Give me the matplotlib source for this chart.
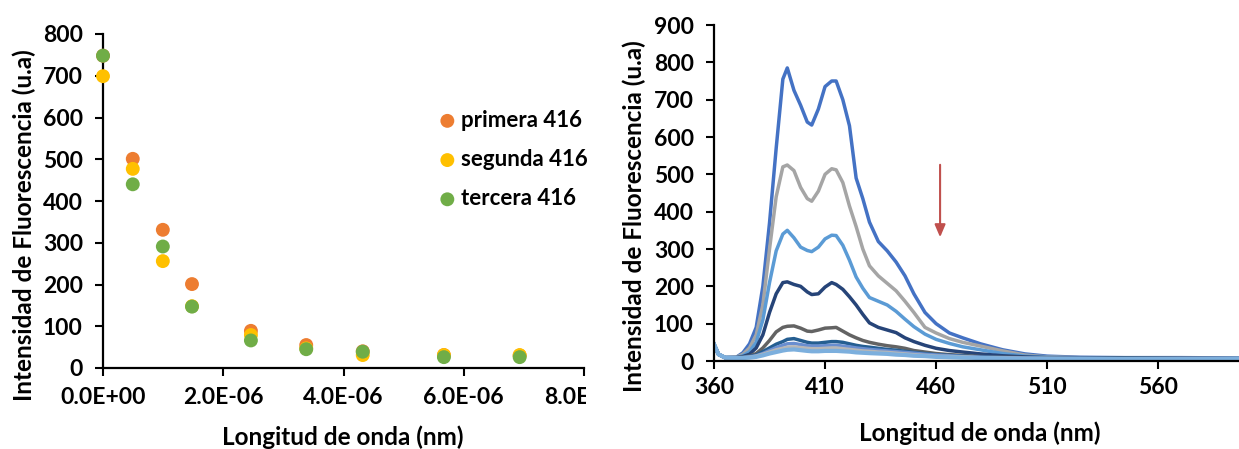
import matplotlib
matplotlib.use("Agg")
import matplotlib.pyplot as plt
from matplotlib.transforms import Bbox, TransformedBbox
from matplotlib.ticker import FuncFormatter, MultipleLocator

plt.rcParams['font.family'] = ['Lato', 'DejaVu Sans']
plt.rcParams['font.weight'] = 'bold'

# ---------------- left chart data ----------------
conc = [0.0, 0.495e-6, 0.995e-6, 1.48e-6, 2.46e-6, 3.38e-6, 4.32e-6, 5.67e-6, 6.93e-6]
primera = [748, 501, 331, 201, 89, 55, 40, 31, 30]
segunda = [699, 477, 256, 148, 79, 47, 31, 31, 31]
tercera = [748, 440, 291, 147, 66, 45, 39, 26, 26]
series_names = ["primera 416", "segunda 416", "tercera 416"]
series_colors = ["#ED7D31", "#FFC000", "#70AD47"]

# ---------------- right chart data ----------------
wl = [360, 362, 365, 370, 373, 376, 379, 382, 385, 388, 391, 393, 396, 399, 402, 404, 407,
      410, 413, 415, 418, 421, 424, 427, 430, 434, 438, 442, 446, 450, 455, 460, 466, 472,
      480, 490, 500, 510, 525, 545, 570, 600]
s1 = [45, 18, 9, 10, 22, 46, 90, 200, 370, 570, 755, 785, 725, 685, 640, 632, 675,
      735, 750, 750, 700, 630, 490, 435, 372, 320, 295, 265, 228, 180, 130, 100, 75, 62,
      46, 30, 19, 13, 10, 9, 9, 8]
s2 = [45, 18, 9, 10, 18, 35, 70, 150, 300, 440, 520, 525, 510, 465, 435, 428, 455,
      500, 515, 512, 478, 415, 360, 300, 255, 228, 208, 188, 160, 130, 90, 75, 60, 50,
      40, 27, 16, 11, 9, 8, 8, 7]
s3 = [45, 18, 9, 9, 14, 25, 50, 110, 210, 295, 340, 350, 330, 305, 296, 293, 305,
      327, 337, 336, 310, 270, 225, 195, 170, 160, 150, 133, 112, 92, 72, 58, 47, 38,
      30, 20, 13, 10, 8, 8, 7, 7]
s4 = [45, 18, 9, 9, 12, 18, 35, 70, 130, 180, 210, 212, 205, 200, 185, 178, 180,
      198, 210, 205, 192, 172, 150, 125, 102, 90, 83, 76, 62, 52, 42, 34, 28, 24,
      19, 14, 11, 9, 8, 7, 7, 6]
s5 = [45, 18, 9, 9, 10, 13, 20, 35, 55, 78, 90, 93, 94, 88, 80, 79, 83,
      88, 89, 90, 80, 70, 62, 55, 50, 45, 41, 38, 34, 28, 24, 20, 17, 15,
      12, 10, 9, 8, 7, 7, 6, 6]
s6 = [45, 18, 9, 9, 10, 12, 16, 25, 35, 45, 52, 58, 60, 55, 50, 48, 48,
      50, 52, 52, 50, 46, 42, 39, 37, 34, 31, 29, 26, 23, 20, 17, 15, 13,
      11, 9, 8, 8, 7, 7, 6, 6]
s7 = [45, 18, 9, 9, 9, 11, 14, 20, 28, 36, 42, 46, 47, 44, 41, 40, 40,
      41, 42, 42, 40, 38, 35, 33, 31, 29, 27, 25, 23, 21, 18, 16, 14, 12,
      10, 9, 8, 7, 7, 6, 6, 6]
s8 = [45, 18, 9, 9, 9, 10, 13, 18, 24, 30, 34, 37, 38, 36, 34, 33, 33,
      34, 35, 35, 33, 31, 29, 27, 26, 24, 23, 21, 19, 17, 15, 13, 12, 11,
      9, 8, 7, 7, 6, 6, 6, 5]
s9 = [45, 18, 9, 8, 8, 9, 11, 15, 20, 24, 28, 30, 31, 29, 27, 26, 26,
      27, 27, 27, 26, 25, 23, 22, 21, 20, 19, 17, 16, 14, 13, 11, 10, 9,
      8, 7, 6, 6, 6, 5, 5, 5]
spectra = [s1, s2, s3, s4, s5, s6, s7, s8, s9]
spec_colors = ["#4472C4", "#A5A5A5", "#5B9BD5", "#264478", "#636363",
               "#255E91", "#698ED0", "#B7B7B7", "#7CAFDD"]
arrow_x = 461.8
arrow_from = 533
arrow_to = 324

W, H = 1239, 449
fig = plt.figure(figsize=(W / 100, H / 100), dpi=100)

TICK_FS = 16.5

def style_axes(ax):
    for s in ("top", "right"):
        ax.spines[s].set_visible(False)
    for s in ("left", "bottom"):
        ax.spines[s].set_linewidth(1.6)
        ax.spines[s].set_color("black")
    ax.tick_params(direction="out", length=5.5, width=1.5, labelsize=TICK_FS, colors="black")
    ax.tick_params(axis="y", pad=9)
    for lbl in ax.get_xticklabels() + ax.get_yticklabels():
        lbl.set_fontweight("bold")

# ---------- left axes ----------
ax1 = fig.add_axes([103 / W, 81 / H, (584 - 103) / W, (368 - 34) / H])
for vals, name, col in zip([primera, segunda, tercera], series_names, series_colors):
    ax1.scatter(conc, vals, s=100, color=col, label=name, zorder=3, edgecolors="none", clip_on=False)
ax1.set_xlim(0, 8e-6)
ax1.set_ylim(0, 800)
ax1.xaxis.set_major_locator(MultipleLocator(2e-6))
ax1.yaxis.set_major_locator(MultipleLocator(100))
ax1.xaxis.set_major_formatter(FuncFormatter(lambda v, p: f"{v:.1E}"))
style_axes(ax1)
ax1.tick_params(axis="x", pad=8)
leg = ax1.legend(loc="upper left", bbox_to_anchor=(0.672, 0.80), frameon=False,
                 handletextpad=0.05, labelspacing=0.82, borderaxespad=0,
                 prop={"size": 16, "weight": "bold"}, markerscale=1.0, handlelength=1.1)

# ---------- right axes ----------
ax2 = fig.add_axes([714 / W, 88 / H, (1247 - 714) / W, (361 - 25) / H])
for ys, col in zip(spectra, spec_colors):
    lw = 3.0 if col == "#7CAFDD" else 2.5
    ax2.plot(wl, ys, color=col, lw=lw, solid_joinstyle="round")
ax2.set_xlim(360, 600)
ax2.set_ylim(0, 900)
ax2.set_xticks([360, 410, 460, 510, 560])
ax2.yaxis.set_major_locator(MultipleLocator(100))
style_axes(ax2)
ax2.tick_params(axis="x", pad=6)
ax2.annotate("", xy=(arrow_x, arrow_to), xytext=(arrow_x, arrow_from),
             arrowprops=dict(arrowstyle="-|>,head_length=0.75,head_width=0.32",
                             color="#C0504D", lw=1.5))

# ---------- axis titles ----------
lab = dict(fontsize=17.5, fontweight="bold", ha="center", va="center")
fig.text(24 / W, 1 - 225.5 / H, "Intensidad de Fluorescencia (u.a)", rotation=90, **lab)
fig.text(343 / W, 1 - 437 / H, "Longitud de onda (nm)", **lab)
fig.text(634 / W, 1 - 216 / H, "Intensidad de Fluorescencia (u.a)", rotation=90, **lab)
fig.text(980 / W, 1 - 433 / H, "Longitud de onda (nm)", **lab)

# clip left chart labels at the right border of its panel
fig.canvas.draw()
clip = TransformedBbox(Bbox([[0, 0], [586 / W, 1]]), fig.transFigure)
for lbl in ax1.get_xticklabels():
    lbl.set_clip_box(clip)
    lbl.set_clip_on(True)

fig.savefig("out.png", dpi=100)
